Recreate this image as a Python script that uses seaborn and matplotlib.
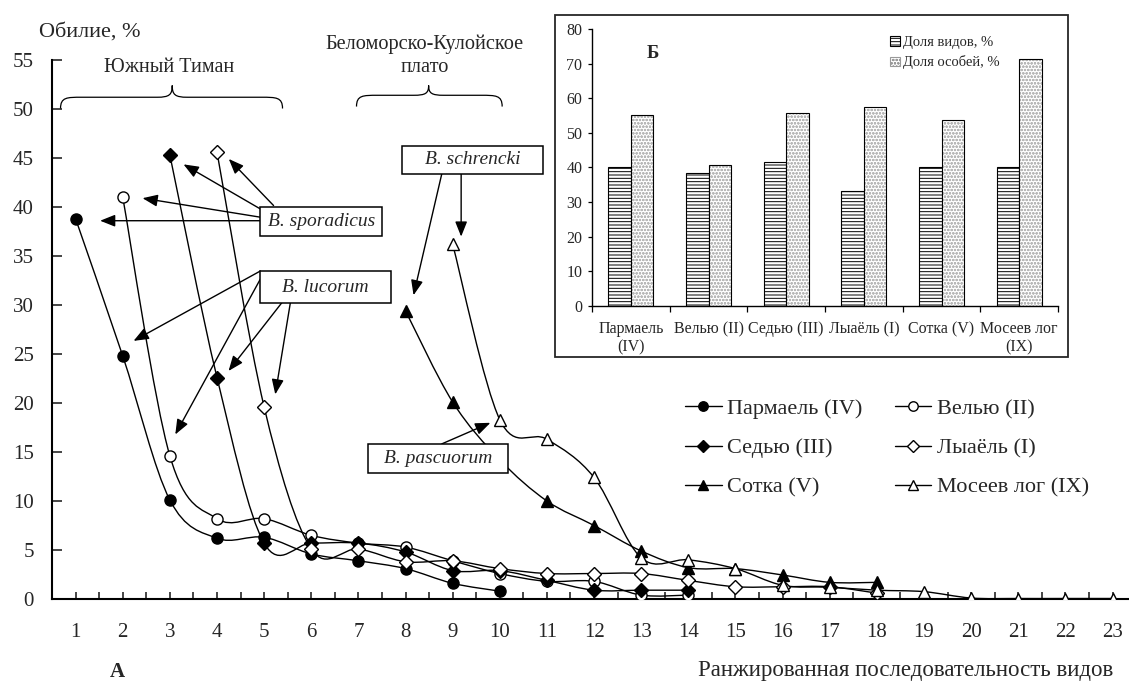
import numpy as np
import pandas as pd
import matplotlib
matplotlib.use('Agg')
import matplotlib.pyplot as plt
import seaborn as sns
from matplotlib.path import Path
from matplotlib.patches import PathPatch, Rectangle, Patch
from matplotlib.lines import Line2D

# --- данные: ранговые распределения (обилие, %) ---
parmael_x = [1, 2, 3, 4, 5, 6, 7, 8, 9, 10]
parmael_y = [38.8, 24.8, 10.1, 6.2, 6.3, 4.6, 3.9, 3.1, 1.6, 0.8]

velyu_x = [2, 3, 4, 5, 6, 7, 8, 9, 10, 11, 12, 13, 14]
velyu_y = [41.0, 14.6, 8.2, 8.2, 6.5, 5.7, 5.3, 3.9, 2.6, 1.8, 1.8, 0.4, 0.4]

sedyu_x = [3, 4, 5, 6, 7, 8, 9, 10, 11, 12, 13, 14]
sedyu_y = [45.3, 22.6, 5.7, 5.7, 5.7, 4.8, 2.9, 2.9, 1.9, 0.9, 0.9, 0.9]

lyael_x = [4, 5, 6, 7, 8, 9, 10, 11, 12, 13, 14, 15, 16, 17, 18]
lyael_y = [45.6, 19.6, 5.1, 5.1, 3.8, 3.9, 3.1, 2.6, 2.6, 2.6, 1.9, 1.25, 1.25, 1.25, 0.6]

sotka_x = [8, 9, 10, 11, 12, 13, 14, 15, 16, 17, 18]
sotka_y = [29.4, 20.1, 14.2, 10.0, 7.5, 4.9, 3.2, 3.1, 2.45, 1.7, 1.7]

moseev_x = [9, 10, 11, 12, 13, 14, 15, 16, 17, 18, 19, 20, 21, 22, 23]
moseev_y = [36.2, 18.3, 16.3, 12.4, 4.2, 4.0, 3.1, 1.4, 1.2, 0.9, 0.75, 0.1, 0.05, 0.05, 0.05]

# --- данные врезки Б ---
sites = ['Пармаель\n(IV)', 'Велью (II)', 'Седью (III)', 'Лыаёль (I)', 'Сотка (V)', 'Мосеев лог\n(IX)']
species_share = [40.0, 38.5, 41.7, 33.3, 40.0, 40.0]
indiv_share = [55.0, 40.6, 55.7, 57.6, 53.7, 71.4]

sns.set_theme(style='ticks')
plt.rcParams['font.family'] = ['Liberation Serif', 'DejaVu Serif']
plt.rcParams['hatch.linewidth'] = 0.7

fig = plt.figure(figsize=(11.29, 6.81), dpi=100)
ax = fig.add_axes([0.0461, 0.1204, 0.9539, 0.7915])


def smooth_path(xs, ys):
    # сглаженная линия как в Excel (Catmull-Rom -> Безье)
    p = np.column_stack([xs, ys]).astype(float)
    ext = np.vstack([p[0], p, p[-1]])
    verts = [tuple(p[0])]
    codes = [Path.MOVETO]
    for i in range(len(p) - 1):
        p0, p1, p2, p3 = ext[i], ext[i + 1], ext[i + 2], ext[i + 3]
        c1 = p1 + (p2 - p0) / 6
        c2 = p2 - (p3 - p1) / 6
        verts += [tuple(c1), tuple(c2), tuple(p2)]
        codes += [Path.CURVE4] * 3
    return Path(verts, codes)


series = [
    ('Пармаель (IV)', parmael_x, parmael_y, 'o', 'black', 8),
    ('Велью (II)', velyu_x, velyu_y, 'o', 'white', 8),
    ('Седью (III)', sedyu_x, sedyu_y, 'D', 'black', 6.8),
    ('Лыаёль (I)', lyael_x, lyael_y, 'D', 'white', 6.8),
    ('Сотка (V)', sotka_x, sotka_y, '^', 'black', 8.5),
    ('Мосеев лог (IX)', moseev_x, moseev_y, '^', 'white', 8.5),
]

handles = {}
for name, xs, ys, m, fc, ms in series:
    ax.add_patch(PathPatch(smooth_path(xs, ys), fill=False, ec='black', lw=1.0, zorder=2))
    sns.lineplot(x=xs, y=ys, ax=ax, linestyle='none', marker=m, markersize=ms,
                 markerfacecolor=fc, markeredgecolor='black', markeredgewidth=1.0,
                 zorder=3, legend=False)
    handles[name] = Line2D([], [], color='black', lw=1.0, marker=m, markersize=ms * 0.85,
                           markerfacecolor=fc, markeredgecolor='black')

ax.set_xlim(0.5, 23.35)
ax.set_ylim(0, 55)
ax.set_xticks(range(1, 24))
ax.set_xticks(np.arange(1.5, 23.0, 1.0), minor=True)
ax.set_yticks(range(0, 56, 5))
ax.tick_params(axis='x', which='both', direction='in', length=5, width=1.2, pad=17, labelsize=15)
ax.tick_params(axis='y', direction='in', length=7, width=1.2, pad=13, labelsize=15)
ax.set_xlabel('')
ax.set_ylabel('')
sns.despine(ax=ax)
for s in ['left', 'bottom']:
    ax.spines[s].set_linewidth(1.5)
    ax.spines[s].set_color('black')

order = ['Пармаель (IV)', 'Седью (III)', 'Сотка (V)', 'Велью (II)', 'Лыаёль (I)', 'Мосеев лог (IX)']
ax.legend([handles[k] for k in order], order, ncol=2, loc='upper left',
          bbox_to_anchor=(0.5877, 0.372), frameon=False, fontsize=16,
          handlelength=1.65, handletextpad=0.25, columnspacing=1.45,
          labelspacing=0.85, borderpad=0, borderaxespad=0)


# фигурные скобки над группами
def brace(x0, x1, xt, ylow, ymid, ytop, r, rt):
    verts = [(x0, ylow), (x0, ymid), (x0 + 0.3 * r, ymid), (x0 + r, ymid),
             (xt - rt, ymid),
             (xt - 0.2 * rt, ymid), (xt, ymid + 0.2 * (ytop - ymid)), (xt, ytop),
             (xt, ymid + 0.2 * (ytop - ymid)), (xt + 0.2 * rt, ymid), (xt + rt, ymid),
             (x1 - r, ymid),
             (x1 - 0.3 * r, ymid), (x1, ymid), (x1, ylow)]
    codes = [Path.MOVETO] + [Path.CURVE4] * 3 + [Path.LINETO] + [Path.CURVE4] * 6 + \
            [Path.LINETO] + [Path.CURVE4] * 3
    ax.add_patch(PathPatch(Path(verts, codes), fill=False, ec='black', lw=0.9, clip_on=False))


brace(0.68, 5.39, 3.05, 50.05, 51.2, 52.4, 0.45, 0.32)
brace(6.96, 10.05, 8.49, 50.25, 51.4, 52.4, 0.45, 0.32)

# подписи видов с рамками и стрелками
boxes = [
    ('B. sporadicus', 4.918, 7.506, 37.05, 40.02),
    ('B. lucorum', 4.918, 7.697, 30.19, 33.47),
    ('B. schrencki', 7.931, 10.922, 43.40, 46.26),
    ('B. pascuorum', 7.213, 10.182, 12.90, 15.86),
]
for label, bx0, bx1, by0, by1 in boxes:
    ax.add_patch(Rectangle((bx0, by0), bx1 - bx0, by1 - by0, fc='white', ec='black', lw=1.1, zorder=4))
    ax.text((bx0 + bx1) / 2, (by0 + by1) / 2, label, ha='center', va='center',
            fontsize=14, style='italic', zorder=5)

arrows = [
    ((4.92, 38.6), (1.52, 38.6)),
    ((4.92, 38.96), (2.42, 40.9)),
    ((4.92, 39.8), (3.29, 44.35)),
    ((5.20, 40.15), (4.25, 44.9)),
    ((4.92, 33.47), (2.23, 26.34)),
    ((4.92, 32.65), (3.115, 16.79)),
    ((5.38, 30.26), (4.245, 23.27)),
    ((5.555, 30.19), (5.236, 20.88)),
    ((8.77, 43.4), (8.17, 31.0)),
    ((9.18, 43.4), (9.18, 36.98)),
    ((8.77, 15.83), (9.80, 17.98)),
    ((9.18, 13.72), (9.80, 13.72)),
]
for tail, head in arrows:
    ax.annotate('', xy=head, xytext=tail,
                arrowprops=dict(arrowstyle='-|>,head_length=0.7,head_width=0.28', color='black',
                                lw=1.0, shrinkA=0, shrinkB=0, mutation_scale=13))

fig.text(0.0345, 0.953, 'Обилие, %', ha='left', va='center', fontsize=16)
fig.text(0.1497, 0.9016, 'Южный Тиман', ha='center', va='center', fontsize=14.5)
fig.text(0.3764, 0.9185, 'Беломорско-Кулойское\nплато', ha='center', va='center',
         fontsize=14.7, linespacing=1.3)
fig.text(0.1036, 0.0132, 'А', ha='center', va='center', fontsize=15, fontweight='bold')
fig.text(0.9858, 0.0147, 'Ранжированная последовательность видов', ha='right', va='center', fontsize=16.5)

# --- врезка Б ---
fig.patches.append(Rectangle((0.4916, 0.4758), 0.4544, 0.5022, transform=fig.transFigure,
                             fc='white', ec='0.15', lw=1.3, zorder=2))
ax2 = fig.add_axes([0.5244, 0.551, 0.4127, 0.4064], zorder=3)
ax2.set_facecolor('none')

df = pd.DataFrame({
    'site': sites * 2,
    'value': species_share + indiv_share,
    'kind': ['Доля видов, %'] * len(sites) + ['Доля особей, %'] * len(sites),
})
sns.barplot(data=df, x='site', y='value', hue='kind', ax=ax2, width=0.58,
            palette=['white', 'white'], saturation=1, legend=False)

for p in ax2.containers[0]:
    p.set_facecolor('white')
    p.set_edgecolor('black')
    p.set_linewidth(0.8)
    p.set_hatch('-----')
for p in ax2.containers[1]:
    p.set_facecolor('white')
    p.set_edgecolor('0.72')
    p.set_linewidth(0)
    p.set_hatch('ooooo')
    ax2.add_patch(Rectangle((p.get_x(), p.get_y()), p.get_width(), p.get_height(),
                            fill=False, ec='black', lw=0.8))

ax2.set_xlim(-0.5, 5.5)
ax2.set_ylim(0, 80)
ax2.set_yticks(range(0, 81, 10))
ax2.set_xticks(np.arange(-0.5, 6.0, 1.0), minor=True)
ax2.tick_params(axis='x', which='major', length=0, pad=11, labelsize=11.5)
ax2.tick_params(axis='x', which='minor', direction='out', length=4.5, width=0.9, color='black')
ax2.tick_params(axis='y', direction='out', length=3, width=0.9, pad=4, labelsize=11.5, color='black')
ax2.set_xlabel('')
ax2.set_ylabel('')
sns.despine(ax=ax2)
for s in ['left', 'bottom']:
    ax2.spines[s].set_linewidth(1.0)
    ax2.spines[s].set_color('black')

ax2.text(0.131, 0.913, 'Б', transform=ax2.transAxes, ha='center', va='center',
         fontsize=13.5, fontweight='bold')
leg_handles = [Patch(fc='white', ec='black', hatch='-----', lw=0.8),
               Patch(fc='white', ec='0.6', hatch='ooooo', lw=0.8)]
ax2.legend(leg_handles, ['Доля видов, %', 'Доля особей, %'], loc='upper left',
           bbox_to_anchor=(0.64, 0.975), frameon=False, fontsize=10.5,
           handlelength=0.65, handleheight=0.65, handletextpad=0.2,
           labelspacing=0.45, borderpad=0, borderaxespad=0)

fig.savefig('out.png', dpi=100)
